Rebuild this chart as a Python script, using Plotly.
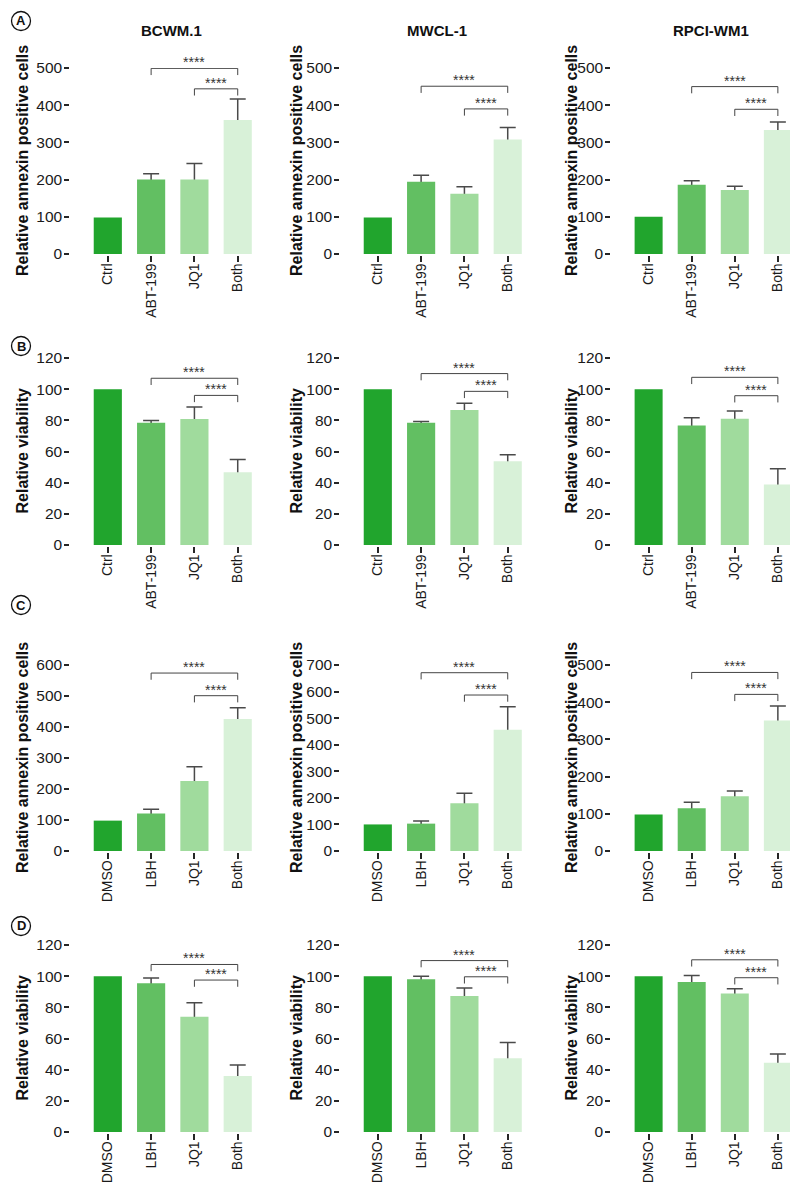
import plotly.graph_objects as go

# ---------------- data ----------------
cell_lines = ["BCWM.1", "MWCL-1", "RPCI-WM1"]
abt_groups = ["Ctrl", "ABT-199", "JQ1", "Both"]
lbh_groups = ["DMSO", "LBH", "JQ1", "Both"]
panel_letters = ["A", "B", "C", "D"]

# A: annexin, ABT-199 / JQ1
annexin_abt_mean = [[98, 200, 200, 360], [98, 194, 162, 308], [100, 186, 172, 333]]
annexin_abt_err = [[0, 16, 43, 57], [0, 18, 19, 32], [0, 11, 10, 22]]
# B: viability, ABT-199 / JQ1
viability_abt_mean = [[100, 78.4, 80.8, 46.7], [100, 78.4, 86.6, 53.8], [100, 76.7, 81.0, 38.8]]
viability_abt_err = [[0, 1.5, 7.7, 8.2], [0, 0.9, 4.4, 4.1], [0, 4.9, 5.0, 10.1]]
# C: annexin, LBH / JQ1
annexin_lbh_mean = [[98, 121, 226, 426], [100, 103, 180, 456], [98, 115, 147, 351]]
annexin_lbh_err = [[0, 14, 46, 36], [0, 10, 37, 87], [0, 16, 14, 39]]
# D: viability, LBH / JQ1
viability_lbh_mean = [[100, 95.5, 74.0, 36.0], [100, 98.0, 87.2, 47.4], [100, 96.3, 88.8, 44.5]]
viability_lbh_err = [[0, 3.3, 9.0, 7.0], [0, 1.9, 5.2, 10.0], [0, 4.1, 3.2, 5.6]]

y_titles = ["Relative annexin positive cells", "Relative viability",
            "Relative annexin positive cells", "Relative viability"]
y_max = [[500, 500, 500], [120, 120, 120], [600, 700, 500], [120, 120, 120]]
y_dtick = [100, 20, 100, 20]

# significance brackets (data units): long = 2nd vs 4th group, short = 3rd vs 4th group
bracket_long = [[499, 451, 450], [107, 110, 107.6], [574, 671, 480], [107.5, 110, 110.5]]
bracket_short = [[444, 390, 389], [96, 98.6, 95.8], [501, 587, 421], [97.5, 99.6, 99]]
sig_label = "****"

# ---------------- layout / style ----------------
W, H = 798, 1183
col_px = [(63, 257), (333, 527), (604, 797)]
row_px = [(60, 246), (350, 537), (657, 843), (937, 1124)]
title_x_px = [163, 429, 703]
ytitle_x_px = [14, 288, 563]
letter_y_px = [13, 338, 597, 918]
bar_colors = ["#21a52d", "#62bf62", "#a0db9d", "#d8f1d8"]
ink = "#262626"
err_color = "#4a4a4a"
FONT = "Liberation Sans, Arial, Helvetica, sans-serif"

rows = [
    (abt_groups, annexin_abt_mean, annexin_abt_err),
    (abt_groups, viability_abt_mean, viability_abt_err),
    (lbh_groups, annexin_lbh_mean, annexin_lbh_err),
    (lbh_groups, viability_lbh_mean, viability_lbh_err),
]

fig = go.Figure()
shapes = []
annotations = []
layout_axes = {}

n = 0
for r, (groups, means, errs) in enumerate(rows):
    for c in range(3):
        n += 1
        xa = "x" if n == 1 else f"x{n}"
        ya = "y" if n == 1 else f"y{n}"
        xkey = "xaxis" if n == 1 else f"xaxis{n}"
        ykey = "yaxis" if n == 1 else f"yaxis{n}"
        m = means[c]
        e = errs[c]

        # error bars (symmetric, drawn behind the bars so only the upper half shows)
        ex = [g for g, v in zip(groups, e) if v > 0]
        ey = [mv for mv, v in zip(m, e) if v > 0]
        ee = [v for v in e if v > 0]
        fig.add_trace(go.Scatter(
            x=ex, y=ey, xaxis=xa, yaxis=ya, mode="markers",
            marker=dict(size=1, opacity=0), showlegend=False, hoverinfo="skip",
            error_y=dict(type="data", array=ee, symmetric=True, color=err_color,
                         thickness=1.5, width=8),
            zorder=0,
        ))
        fig.add_trace(go.Bar(
            x=groups, y=m, xaxis=xa, yaxis=ya, width=0.65,
            marker=dict(color=bar_colors, line=dict(width=0)),
            showlegend=False, zorder=1,
        ))

        x0, x1 = col_px[c]
        y0, y1 = row_px[r]
        layout_axes[xkey] = dict(
            domain=[x0 / W, x1 / W], anchor=ya, type="category",
            categoryorder="array", categoryarray=groups,
            range=[-0.85, 3.63], showgrid=False, zeroline=False,
            showline=True, linecolor=ink, linewidth=1.5,
            ticks="outside", ticklen=6, tickwidth=1.5, tickcolor=ink,
            tickangle=-90, tickfont=dict(family=FONT, size=14, color="#1a1a1a"),
            ticklabelstandoff=-4,
            automargin=False, fixedrange=True,
        )
        layout_axes[ykey] = dict(
            domain=[1 - y1 / H, 1 - y0 / H], anchor=xa,
            range=[0, y_max[r][c]], dtick=y_dtick[r], tick0=0,
            showgrid=False, zeroline=False,
            showline=True, linecolor=ink, linewidth=1.5,
            ticks="outside", ticklen=5, tickwidth=1.5, tickcolor=ink,
            tickfont=dict(family=FONT, size=15.5, color="#1a1a1a"),
            ticklabelstandoff=-1,
            automargin=False, fixedrange=True,
        )

        # brackets
        drop = 0.036 * y_max[r][c]
        i_both = 3
        for i_from, yb in ((1, bracket_long[r][c]), (2, bracket_short[r][c])):
            shapes.append(dict(
                type="path", xref=xa, yref=ya,
                path=f"M {i_from},{yb - drop} L {i_from},{yb} L {i_both},{yb} L {i_both},{yb - drop}",
                line=dict(color="#444", width=1),
            ))
            annotations.append(dict(
                x=(i_from + i_both) / 2, y=yb, xref=xa, yref=ya,
                text=sig_label, showarrow=False, yanchor="bottom",
                yshift=-4, font=dict(family=FONT, size=14, color="#333"),
            ))

        # y-axis title
        annotations.append(dict(
            x=ytitle_x_px[c] / W, y=1 - (y0 + y1) / 2 / H, xref="paper", yref="paper",
            text=f"<b>{y_titles[r]}</b>", textangle=-90, showarrow=False,
            xanchor="center", yanchor="middle",
            font=dict(family=FONT, size=16, color="#111"),
        ))

# column titles
for c, name in enumerate(cell_lines):
    annotations.append(dict(
        x=title_x_px[c] / W, y=1 - 23 / H, xref="paper", yref="paper",
        text=f"<b>{name}</b>", showarrow=False, xanchor="center", yanchor="middle",
        font=dict(family=FONT, size=15, color="#111"),
    ))

# circled panel letters
for r, letter in enumerate(panel_letters):
    cx, cy, rad = 13, letter_y_px[r], 9.5
    shapes.append(dict(
        type="circle", xref="paper", yref="paper",
        x0=(cx - rad) / W, x1=(cx + rad) / W, y0=1 - (cy + rad) / H, y1=1 - (cy - rad) / H,
        line=dict(color="#111", width=1.3), fillcolor="white",
    ))
    annotations.append(dict(
        x=cx / W, y=1 - cy / H, xref="paper", yref="paper",
        text=f"<b>{letter}</b>", showarrow=False, xanchor="center", yanchor="middle",
        font=dict(family=FONT, size=13, color="#111"),
    ))

fig.update_layout(
    width=W, height=H, margin=dict(l=0, r=0, t=0, b=0),
    paper_bgcolor="white", plot_bgcolor="white",
    barmode="overlay", showlegend=False,
    shapes=shapes, annotations=annotations,
    font=dict(family=FONT),
    **layout_axes,
)

fig.write_html("out.html", config={"displayModeBar": False})
